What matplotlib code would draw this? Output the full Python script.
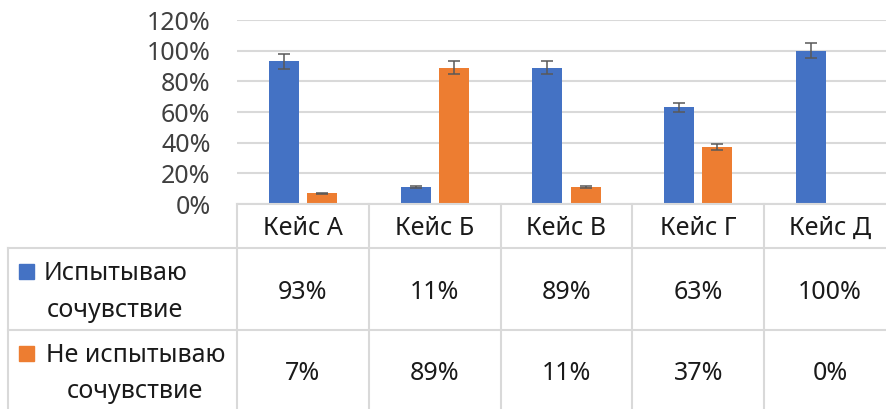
import matplotlib.pyplot as plt
from matplotlib.patches import Rectangle
import numpy as np

plt.rcParams['font.family'] = ['Noto Sans', 'DejaVu Sans']

cats = ['Кейс А', 'Кейс Б', 'Кейс В', 'Кейс Г', 'Кейс Д']
feel = [0.93, 0.11, 0.89, 0.63, 1.00]
nofeel = [0.07, 0.89, 0.11, 0.37, 0.00]
err_feel = [0.0465, 0.0055, 0.0445, 0.0315, 0.05]
err_nofeel = [0.0035, 0.0445, 0.0055, 0.0185, 0.0]
series = [['Испытываю', 'сочувствие'], ['Не испытываю', 'сочувствие']]
yticks = [0, 0.2, 0.4, 0.6, 0.8, 1.0, 1.2]

blue = '#4472C4'
orange = '#ED7D31'
grid = '#D9D9D9'
txt = '#1a1a1a'
fs = 18
W, H = 887, 409

fig = plt.figure(figsize=(W / 100, H / 100), dpi=100)

def fx(x):
    return x / W

def fy(y):
    return 1 - y / H

colw = 131.8
left = 237
ax = fig.add_axes([fx(left), fy(204), 5 * colw / W, (204 - 20) / H])
x = np.arange(len(cats))
off = 0.145
bw = 0.227
ax.bar(x - off, feel, bw, color=blue, zorder=3)
ax.bar(x + off, nofeel, bw, color=orange, zorder=3)
ek = dict(fmt='none', ecolor='#595959', elinewidth=1.1, capsize=4, capthick=1.1, zorder=4)
m1 = np.array(feel) > 0
m2 = np.array(nofeel) > 0
ax.errorbar((x - off)[m1], np.array(feel)[m1], yerr=np.array(err_feel)[m1], **ek)
ax.errorbar((x + off)[m2], np.array(nofeel)[m2], yerr=np.array(err_nofeel)[m2], **ek)
ax.set_xlim(-0.5, 4.5)
ax.set_ylim(0, 1.2)
ax.set_yticks(yticks)
ax.set_yticklabels(['%d%%' % round(v * 100) for v in yticks], fontsize=fs, color='#404040')
ax.set_xticks([])
ax.tick_params(axis='y', length=0, pad=19)
ax.grid(axis='y', color=grid, linewidth=1.5, zorder=0)
for s in ax.spines.values():
    s.set_visible(False)

# data table
lc = dict(color=grid, linewidth=1.5, transform=fig.transFigure)
right = left + 5 * colw
fig.add_artist(plt.Line2D([fx(left), fx(right)], [fy(204), fy(204)], **lc))
for yy in (248, 330):
    fig.add_artist(plt.Line2D([fx(8), fx(right)], [fy(yy), fy(yy)], **lc))
fig.add_artist(plt.Line2D([fx(8), fx(8)], [fy(248), fy(H)], **lc))
for i in range(5):
    xx = left + i * colw
    fig.add_artist(plt.Line2D([fx(xx), fx(xx)], [fy(204), fy(H)], **lc))

for i, c in enumerate(cats):
    cx = left + (i + 0.5) * colw
    fig.text(fx(cx), fy(235), c, ha='center', va='baseline', fontsize=fs, color=txt)
    fig.text(fx(cx), fy(299), '%d%%' % round(feel[i] * 100), ha='center', va='baseline',
             fontsize=fs, color=txt)
    fig.text(fx(cx), fy(380), '%d%%' % round(nofeel[i] * 100), ha='center', va='baseline',
             fontsize=fs, color=txt)

# row headers with legend keys
keys = [(blue, 264, [(116, 280), (115, 317)]), (orange, 346, [(136, 362), (134.5, 398)])]
for (col, sqy, lines), name in zip(keys, series):
    fig.add_artist(Rectangle((fx(19), fy(sqy + 15)), 15 / W, 15 / H, color=col,
                             transform=fig.transFigure))
    for (tx, ty), line in zip(lines, name):
        fig.text(fx(tx), fy(ty), line, ha='center', va='baseline', fontsize=fs, color=txt)

fig.savefig('out.png', dpi=100)
